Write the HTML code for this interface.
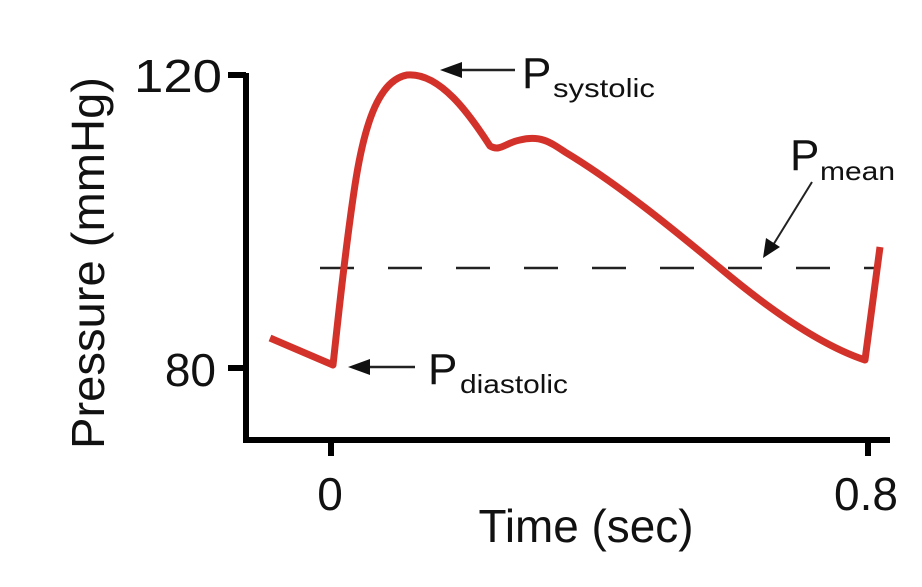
<!DOCTYPE html>
<html><head><style>body{margin:0;background:#fff}</style></head><body>
<svg width="922" height="582" viewBox="0 0 922 582" xmlns="http://www.w3.org/2000/svg" font-family="Liberation Sans, Arial, sans-serif">
<rect width="922" height="582" fill="#fff"/>
<path d="M246 73 V440 H890" fill="none" stroke="#000" stroke-width="6"/>
<path d="M228 75 H246 M228 368 H246 M331 440 V456 M868 440 V456" stroke="#000" stroke-width="6"/>
<text x="222" y="92" font-size="46" text-anchor="end" fill="#111" textLength="88" lengthAdjust="spacingAndGlyphs">120</text>
<text x="216" y="386" font-size="46" text-anchor="end" fill="#111">80</text>
<text x="330" y="510" font-size="46" text-anchor="middle" fill="#111">0</text>
<text x="866" y="510" font-size="46" text-anchor="middle" fill="#111">0.8</text>
<text x="586" y="542" font-size="46" text-anchor="middle" fill="#111" textLength="215" lengthAdjust="spacingAndGlyphs">Time (sec)</text>
<text transform="translate(104,263) rotate(-90)" font-size="46" text-anchor="middle" fill="#111" textLength="372" lengthAdjust="spacingAndGlyphs">Pressure (mmHg)</text>
<line x1="320" y1="268" x2="880" y2="268" stroke="#222" stroke-width="2.5" stroke-dasharray="34 34"/>
<path d="M270 338 L333 365 C338 320 345 250 355 185 C365 120 380 80 407 75 C440 72 470 115 490 146 C500 152 505 143 520 140 C540 135 550 142 565 152 C620 185 680 235 720 268 C770 310 820 345 865 360 L880 247" fill="none" stroke="#d3322a" stroke-width="7" stroke-linejoin="round"/>
<line x1="515" y1="70" x2="455" y2="70" stroke="#222" stroke-width="2.5"/>
<polygon points="440,70 462,62 462,78" fill="#111"/>
<text x="522" y="88" font-size="44" fill="#111">P</text>
<text x="553" y="97" font-size="26" fill="#111" textLength="102" lengthAdjust="spacingAndGlyphs">systolic</text>
<line x1="415" y1="367" x2="362" y2="367" stroke="#222" stroke-width="2.5"/>
<polygon points="348,367 370,359 370,375" fill="#111"/>
<text x="428" y="384" font-size="44" fill="#111">P</text>
<text x="460" y="393" font-size="26" fill="#111" textLength="108" lengthAdjust="spacingAndGlyphs">diastolic</text>
<line x1="812" y1="182" x2="770" y2="250" stroke="#222" stroke-width="2"/>
<polygon points="763,258 766,238 780,247" fill="#111"/>
<text x="790" y="170" font-size="44" fill="#111">P</text>
<text x="820" y="180" font-size="26" fill="#111" textLength="75" lengthAdjust="spacingAndGlyphs">mean</text>
</svg>
</body></html>
